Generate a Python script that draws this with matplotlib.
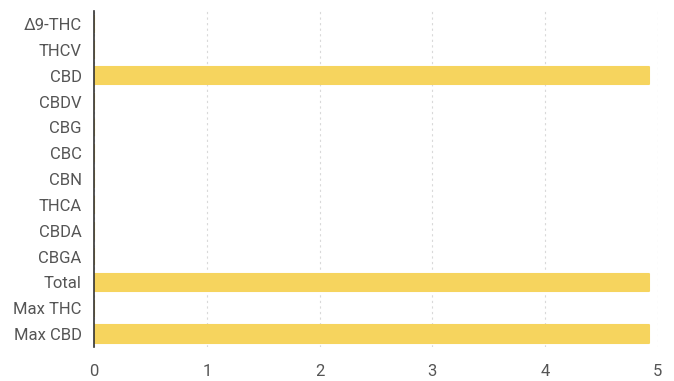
import matplotlib
matplotlib.use("Agg")
import matplotlib.pyplot as plt

plt.rcParams['font.family'] = ['Roboto', 'DejaVu Sans']

# categories top to bottom
categories = ["Δ9-THC", "THCV", "CBD", "CBDV", "CBG", "CBC", "CBN",
              "THCA", "CBDA", "CBGA", "Total", "Max THC", "Max CBD"]
values = [0, 0, 4.92, 0, 0, 0, 0, 0, 0, 0, 4.92, 0, 4.92]
xticks = [0, 1, 2, 3, 4, 5]

bar_color = "#F6D45E"

fig = plt.figure(figsize=(6.74, 3.81), dpi=100)
ax = fig.add_axes([0.1395, 0.089, 0.8365, 0.882])

ypos = list(range(len(categories)))
ax.barh(ypos, values, height=0.68, color=bar_color,
        edgecolor=bar_color, linewidth=1.5, joinstyle="round", zorder=3)

ax.set_yticks(ypos)
ax.set_yticklabels(categories)
ax.set_ylim(len(categories) - 0.5, -0.5)
ax.set_xlim(0, 5)
ax.set_xticks(xticks)
ax.set_xticklabels([str(t) for t in xticks])

ax.tick_params(axis="both", length=0, labelsize=12, labelcolor="#555555")
ax.tick_params(axis="y", pad=9)
ax.tick_params(axis="x", pad=12)

ax.grid(axis="x", linestyle=(0, (2, 3)), color="#d9d9d9", linewidth=0.8, zorder=0)
for side in ["top", "right", "bottom"]:
    ax.spines[side].set_visible(False)
ax.spines["left"].set_color("#333333")
ax.spines["left"].set_linewidth(1.2)
ax.spines["left"].set_zorder(4)

fig.savefig("out.png", dpi=100, facecolor="white")
